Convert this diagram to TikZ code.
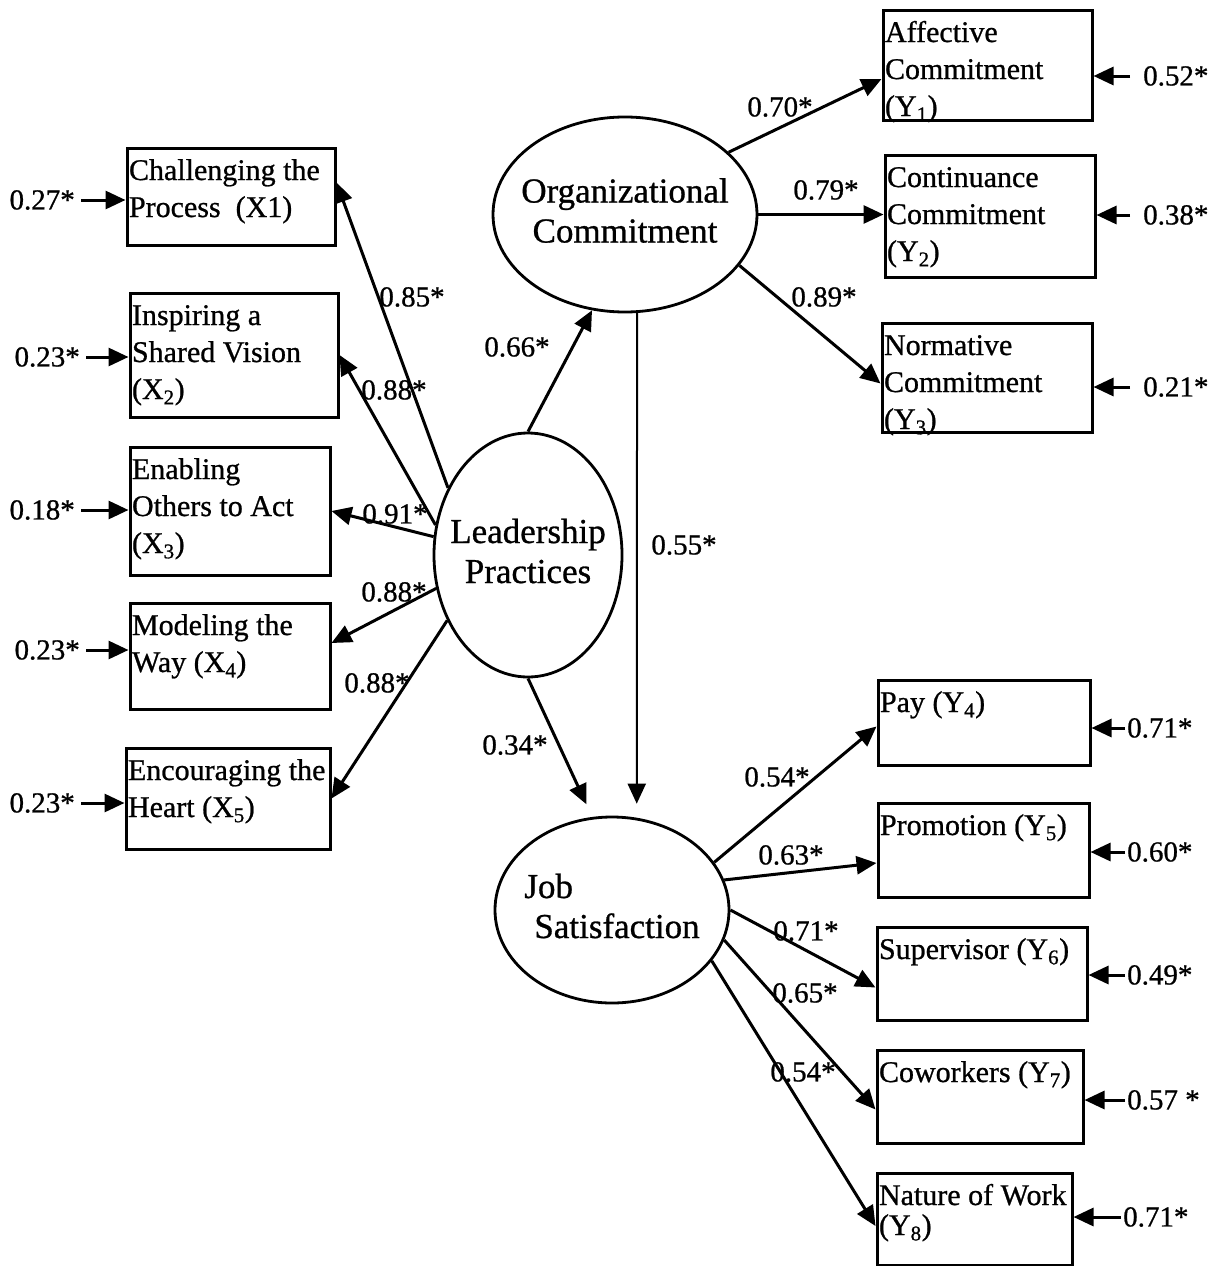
\documentclass[tikz,border=0pt]{standalone}
\usepackage{fontspec}
\setmainfont[FakeBold=0.8]{Liberation Serif}
\usetikzlibrary{arrows.meta,shapes.geometric}
% text of an indicator box: width, height, lines (top left)
\newcommand{\ibox}[3]{\parbox[c][#2][t]{\dimexpr#1-4pt\relax}{\rule{0pt}{32pt}#3}}
% text of a latent variable
\newcommand{\ltext}[2]{\makebox[0pt]{\begin{tabular}{@{}#1@{}}#2\end{tabular}}}

\begin{document}
\begin{tikzpicture}[x=1pt,y=-1pt,
    ind/.style={draw,line width=3pt,inner xsep=2pt,inner ysep=0pt,font=\fontsize{30}{37}\selectfont},
    lat/.style={ellipse,draw,line width=2.8pt,inner sep=0pt,font=\fontsize{35}{40}\selectfont},
    val/.style={inner sep=2pt,font=\fontsize{29}{34}\selectfont},
    arr/.style={-{Triangle[length=20pt,width=18pt]},line width=3pt}]
  \useasboundingbox (0,0) rectangle (1221,1266);
  % latent variables
  \node[lat,minimum width=264pt,minimum height=195pt] (org) at (625,214.5) {\raisebox{12pt}{\ltext{c}{Organizational\\Commitment}}};
  \node[lat,minimum width=188pt,minimum height=244pt] (lp) at (528,555) {\ltext{c}{Leadership\\Practices}};
  \node[lat,minimum width=234pt,minimum height=186pt] (js) at (612,910) {\ltext{l}{Job\\\hspace*{10pt}Satisfaction}};
  % indicators
  \node[ind] (x1) at (231,196.5) {\ibox{208pt}{97pt}{Challenging the\\Process\ \ (X1)}};
  \node[ind] (x2) at (234,355) {\ibox{208pt}{124pt}{Inspiring a\\Shared Vision\\(X\textsubscript{2})}};
  \node[ind] (x3) at (230,511) {\ibox{200pt}{128pt}{Enabling\\Others to Act\\(X\textsubscript{3})}};
  \node[ind] (x4) at (230,656) {\ibox{200pt}{106pt}{Modeling the\\Way (X\textsubscript{4})}};
  \node[ind] (x5) at (228,798.5) {\ibox{204pt}{101pt}{Encouraging the\\Heart (X\textsubscript{5})}};
  \node[ind] (y1) at (987.5,65) {\ibox{209pt}{110pt}{Affective\\Commitment\\(Y\textsubscript{1})}};
  \node[ind] (y2) at (990,216) {\ibox{210pt}{122pt}{Continuance\\Commitment\\(Y\textsubscript{2})}};
  \node[ind] (y3) at (987,377.5) {\ibox{210pt}{109pt}{Normative\\Commitment\\(Y\textsubscript{3})}};
  \node[ind] (y4) at (984,722.5) {\ibox{212pt}{85pt}{Pay (Y\textsubscript{4})}};
  \node[ind] (y5) at (983.5,850) {\ibox{211pt}{94pt}{Promotion (Y\textsubscript{5})}};
  \node[ind] (y6) at (982,973.5) {\ibox{210pt}{93pt}{Supervisor (Y\textsubscript{6})}};
  \node[ind] (y7) at (980,1096.5) {\ibox{206pt}{93pt}{Coworkers (Y\textsubscript{7})}};
  \node[ind] (y8) at (974.5,1219) {\ibox{195pt}{92pt}{Nature of Work\\[-7pt](Y\textsubscript{8})}};
  % structural paths
  \draw[arr] (lp.north) -- (org.251);
  \draw[arr,line width=2pt,shorten >=14pt] (org.277) -- (js.75);
  \draw[arr,shorten >=14pt] (lp.south) -- (js.102);
  \node[val] (l66) at (517,347) {0.66*};
  \node[val] (l55) at (684,545) {0.55*};
  \node[val] (l34) at (515,745) {0.34*};
  % loadings
  \draw[arr] (lp.140) -- ([yshift=14pt]x1.east);
  \draw[arr] (lp.162) -- (x2.east);
  \draw[arr] (lp.169) -- (x3.east);
  \draw[arr] (lp.200) -- ([yshift=13pt]x4.east);
  \draw[arr] (lp.219) -- (x5.east);
  \draw[arr] (org.31) -- ([yshift=-14pt]y1.west);
  \draw[arr] (org.east) -- (org.east -| y2.west);
  \draw[arr] (org.336) -- ([yshift=-6pt]y3.west);
  \draw[arr] (js.25) -- ([yshift=-4pt]y4.west);
  \draw[arr] (js.15) -- ([yshift=-13pt]y5.west);
  \draw[arr] (js.east) -- ([yshift=-14pt]y6.west);
  \draw[arr] (js.345) -- ([yshift=-13pt]y7.west);
  \draw[arr] (js.333) -- ([yshift=-7pt]y8.west);
  \node[val] (lx1) at (412,297) {0.85*};
  \node[val] (lx2) at (394,390) {0.88*};
  \node[val] (lx3) at (395,514) {0.91*};
  \node[val] (lx4) at (394,592) {0.88*};
  \node[val] (lx5) at (377,683) {0.88*};
  \node[val] (ly1) at (780,107) {0.70*};
  \node[val] (ly2) at (826,190) {0.79*};
  \node[val] (ly3) at (824,297) {0.89*};
  \node[val] (ly4) at (777,777) {0.54*};
  \node[val] (ly5) at (791,855) {0.63*};
  \node[val] (ly6) at (806,931) {0.71*};
  \node[val] (ly7) at (805,993) {0.65*};
  \node[val] (ly8) at (803,1072) {0.54*};
  % error terms
  \foreach \i/\lbl/\r/\yy in {1/0.27*/77/200,2/0.23*/82/357,3/0.18*/77/510,4/0.23*/82/650,5/0.23*/77/803}
    {\node[val,anchor=east] (e\i) at (\r,\yy) {\lbl};
     \draw[arr,shorten <=4pt] (e\i.east) -- (e\i.east -| x\i.west);}
  \foreach \i/\lbl/\r/\yy in {1/0.52*/1141/76,2/0.38*/1141/215,3/0.21*/1141/387}
    {\node[val,anchor=west] (f\i) at (\r,\yy) {\lbl};
     \draw[arr,shorten <=11pt] (f\i.west) -- (f\i.west -| y\i.east);}
  \foreach \i/\lbl/\r/\yy in {4/0.71*/1125/728,5/0.60*/1125/852,6/0.49*/1125/975,7/0.57 */1125/1100,8/0.71*/1121/1217}
    {\node[val,anchor=west] (f\i) at (\r,\yy) {\lbl};
     \draw[arr] (f\i.west) -- (f\i.west -| y\i.east);}
\end{tikzpicture}
\end{document}
